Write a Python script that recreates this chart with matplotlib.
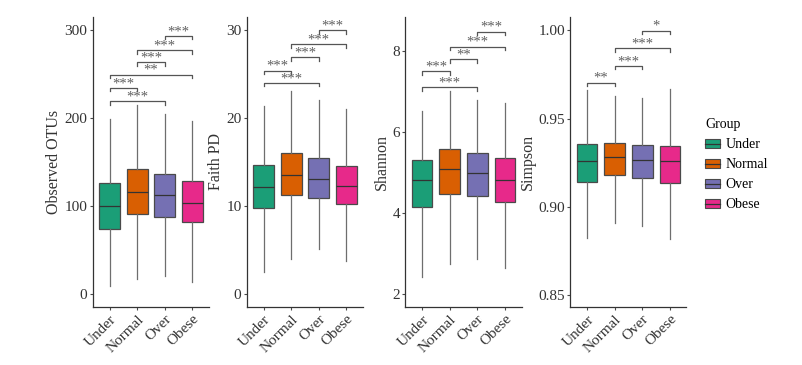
import matplotlib
matplotlib.use("Agg")
import matplotlib.pyplot as plt
from matplotlib.patches import Patch
from matplotlib.lines import Line2D
from matplotlib.legend_handler import HandlerTuple

plt.rcParams['font.family'] = ['Liberation Serif', 'DejaVu Serif']

# groups and colours
groups = ["Under", "Normal", "Over", "Obese"]
colors = ["#1B9E77", "#D95F02", "#7570B3", "#E7298A"]

# box statistics per metric: whisker low, q1, median, q3, whisker high
otus_lo = [9, 16.6, 20.4, 13.2]
otus_q1 = [74, 91, 88, 81.5]
otus_med = [100, 116, 112.5, 103.4]
otus_q3 = [125.7, 141.5, 136, 128]
otus_hi = [199, 215, 204.5, 196]

faith_lo = [2.47, 3.98, 5.1, 3.75]
faith_q1 = [9.77, 11.2, 10.9, 10.2]
faith_med = [12.2, 13.55, 13.05, 12.25]
faith_q3 = [14.7, 16.05, 15.4, 14.6]
faith_hi = [21.4, 23.1, 22.0, 21.06]

shannon_lo = [2.43, 2.76, 2.86, 2.65]
shannon_q1 = [4.14, 4.47, 4.43, 4.28]
shannon_med = [4.81, 5.08, 5.0, 4.81]
shannon_q3 = [5.32, 5.58, 5.47, 5.37]
shannon_hi = [6.51, 7.0, 6.79, 6.72]

simpson_lo = [0.8824, 0.891, 0.889, 0.8817]
simpson_q1 = [0.9139, 0.9183, 0.9166, 0.9135]
simpson_med = [0.9258, 0.9281, 0.9268, 0.9258]
simpson_q3 = [0.9356, 0.9362, 0.9349, 0.9345]
simpson_hi = [0.966, 0.963, 0.9619, 0.9666]

# significance brackets: (group a, group b, height, label)
otus_sig = [(0, 2, 219, "***"), (0, 1, 234, "***"), (0, 3, 249, "**"),
            (1, 2, 263, "***"), (1, 3, 277, "***"), (2, 3, 293, "***")]
faith_sig = [(0, 2, 24.0, "***"), (0, 1, 25.4, "***"), (1, 2, 26.9, "***"),
             (1, 3, 28.4, "***"), (2, 3, 30.0, "***")]
shannon_sig = [(0, 2, 7.10, "***"), (0, 1, 7.49, "***"), (1, 2, 7.79, "**"),
               (1, 3, 8.10, "***"), (2, 3, 8.47, "***")]
simpson_sig = [(0, 1, 0.9704, "**"), (1, 2, 0.9798, "***"),
               (1, 3, 0.9897, "***"), (2, 3, 0.9998, "*")]

panels = [
    ("Observed OTUs", (otus_lo, otus_q1, otus_med, otus_q3, otus_hi), otus_sig,
     [0, 100, 200, 300], ["0", "100", "200", "300"], (-14.7, 314.5)),
    ("Faith PD", (faith_lo, faith_q1, faith_med, faith_q3, faith_hi), faith_sig,
     [0, 10, 20, 30], ["0", "10", "20", "30"], (-1.5, 31.5)),
    ("Shannon", (shannon_lo, shannon_q1, shannon_med, shannon_q3, shannon_hi), shannon_sig,
     [2, 4, 6, 8], ["2", "4", "6", "8"], (1.69, 8.83)),
    ("Simpson", (simpson_lo, simpson_q1, simpson_med, simpson_q3, simpson_hi), simpson_sig,
     [0.85, 0.90, 0.95, 1.00], ["0.85", "0.90", "0.95", "1.00"], (0.8434, 1.0075)),
]

edge = "#4a4a4a"
txtcol = "#333333"
lefts = [93 / 803, 247 / 803, 405.5 / 803, 570.5 / 803]

fig = plt.figure(figsize=(8.03, 3.65), dpi=100)

for left, (label, stats, sig, yt, ytl, ylim) in zip(lefts, panels):
    ax = fig.add_axes([left, 58 / 365, 116 / 803, 290 / 365])
    lo, q1, med, q3, hi = stats
    bstats = [dict(whislo=lo[i], q1=q1[i], med=med[i], q3=q3[i], whishi=hi[i],
                   fliers=[], label=groups[i]) for i in range(len(groups))]
    bp = ax.bxp(bstats, positions=range(len(groups)), widths=0.75, patch_artist=True,
                showfliers=False, showcaps=False,
                boxprops=dict(edgecolor=edge, linewidth=0.9),
                whiskerprops=dict(color="#6e6e6e", linewidth=0.9),
                medianprops=dict(color="#333333", linewidth=0.9))
    for patch, c in zip(bp["boxes"], colors):
        patch.set_facecolor(c)

    ax.set_xlim(-0.6, 3.6)
    ax.set_ylim(*ylim)
    ax.set_yticks(yt)
    ax.set_yticklabels(ytl)
    ax.set_xticks(range(len(groups)))
    ax.set_xticklabels(groups, rotation=45, ha="right", rotation_mode="anchor")
    ax.tick_params(labelsize=11, color=edge, labelcolor=txtcol, length=2.5,
                   width=0.8, pad=1.5)
    ax.set_ylabel(label, fontsize=11.5, labelpad=1.5, color=txtcol)
    for s in ["top", "right"]:
        ax.spines[s].set_visible(False)
    for s in ["left", "bottom"]:
        ax.spines[s].set_color("#333333")
        ax.spines[s].set_linewidth(0.9)

    # significance brackets
    tip = 0.012 * (ylim[1] - ylim[0])
    for a, b, y, txt in sig:
        ax.plot([a, a, b, b], [y - tip, y, y, y - tip], color="#555555", lw=0.9,
                clip_on=False)
        ax.annotate(txt, xy=((a + b) / 2, y), xytext=(0, 0.6), textcoords="offset points",
                    ha="center", va="baseline", fontsize=10.5, color="#606060",
                    annotation_clip=False)

handles = [(Patch(facecolor=c, edgecolor=edge, linewidth=0.8),
            Line2D([], [], color="#333333", lw=0.9)) for c in colors]
fig.legend(handles, groups, title="Group", loc="upper left",
           bbox_to_anchor=(693 / 803, 1 - 106 / 365), frameon=False,
           handler_map={tuple: HandlerTuple(ndivide=1)},
           fontsize=10, title_fontsize=10, handlelength=1.07, handleheight=0.6,
           handletextpad=0.37, labelspacing=0.5, alignment="left")

fig.savefig("out.png", dpi=100)
